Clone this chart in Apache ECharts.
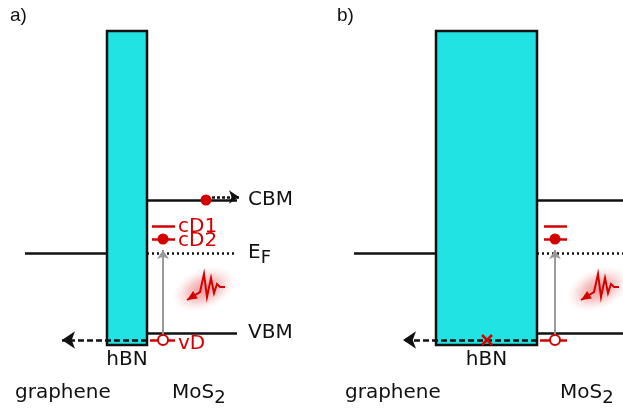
<!DOCTYPE html>
<html>
<head>
<meta charset="utf-8">
<script src="https://cdn.jsdelivr.net/npm/echarts@6/dist/echarts.min.js"></script>
<style>
  html, body { margin: 0; padding: 0; background: #fff; }
  #main { width: 623px; height: 410px; }
</style>
</head>
<body>
<div id="main"></div>
<script>
// sketch units = pixels of the 623x410 figure, y grows downward
const panelLabels = ['a)', 'b)'];
const panelLabelX = [10, 337];
const hbnLeft = [107, 436];
const hbnRight = [147, 537];
const hbnTop = 31;
const hbnBottom = 345;
const grapheneStart = [25, 354];
const mosEnd = [237, 623];
const levelNames = ['CBM', 'E{sub|F}', 'VBM'];
const levelY = [200, 253, 333];
const defectNames = ['cD1', 'cD2', 'vD'];
const defectY = [226, 239, 340];
const defectX = [163, 555];
const tunnelTip = [62, 403];
const blockedX = 487;
const photonCenter = [[205, 288], [599, 288]];
const photonWave = [[-18, 12], [-5, 4], [-1, -14], [2, 9], [6, -10], [9, 5], [12, -4], [15, -1], [20, -1]];
const bottomNames = ['graphene', 'MoS{sub|2}'];
const bottomX = [[15, 172], [345, 560]];

let chart = echarts.init(document.getElementById('main'));
let red = '#d40000';
let cyan = '#22e3e3';
let ink = '#111';

let solid = [], dotted = [], dashedArrows = [], grayArrows = [], redLines = [];
let filledDots = [], openDots = [], texts = [], rects = [];

for (let i = 0; i < 2; i++) {
  rects.push([hbnLeft[i], hbnTop, hbnRight[i], hbnBottom]);
  solid.push({coords: [[grapheneStart[i], levelY[1]], [hbnLeft[i], levelY[1]]]});
  solid.push({coords: [[hbnRight[i], levelY[0]], [mosEnd[i], levelY[0]]]});
  solid.push({coords: [[hbnRight[i], levelY[2]], [mosEnd[i], levelY[2]]]});
  dotted.push({coords: [[hbnRight[i], levelY[1]], [mosEnd[i], levelY[1]]]});
  dashedArrows.push({coords: [[hbnRight[i], defectY[2]], [tunnelTip[i], defectY[2]]]});
  grayArrows.push({coords: [[defectX[i], defectY[2] - 5], [defectX[i], levelY[1] - 3]]});
  let x = defectX[i];
  redLines.push({coords: [[x - 11, defectY[0]], [x + 12, defectY[0]]]});
  redLines.push({coords: [[x - 11, defectY[1]], [x + 12, defectY[1]]]});
  redLines.push({coords: [[hbnRight[i] + 3, defectY[2]], [x + 12, defectY[2]]]});
  filledDots.push([x, defectY[1]]);
  openDots.push([x, defectY[2]]);
  texts.push({value: [panelLabelX[i], 16], text: panelLabels[i], font: 'Liberation Sans', size: 19, color: ink});
  texts.push({value: [(hbnLeft[i] + hbnRight[i]) / 2, 360], text: 'hBN', align: 'center', color: ink});
  texts.push({value: [bottomX[i][0], 393], text: bottomNames[0], color: ink});
  texts.push({value: [bottomX[i][1], 393], text: bottomNames[1], color: ink});
}
// hot electron escaping over the CBM (panel a only)
filledDots.push([206, levelY[0]]);
let escape = [{coords: [[212, levelY[0] - 3], [239, levelY[0] - 3]]}];
// labels on panel a
texts.push({value: [248, levelY[0]], text: levelNames[0], color: ink});
texts.push({value: [248, levelY[1]], text: levelNames[1], color: ink});
texts.push({value: [248, levelY[2]], text: levelNames[2], color: ink});
texts.push({value: [178, defectY[0] + 1], text: defectNames[0], color: red});
texts.push({value: [178, defectY[1] + 2], text: defectNames[1], color: red});
texts.push({value: [178, defectY[2] + 4], text: defectNames[2], color: red});

function lineSeries(data, style, extra) {
  return Object.assign({
    type: 'lines', coordinateSystem: 'cartesian2d', silent: true,
    symbol: 'none', data: data, lineStyle: style, z: 3
  }, extra || {});
}

chart.setOption({
  animation: false,
  grid: {left: 0, right: 0, top: 0, bottom: 0},
  xAxis: {type: 'value', min: 0, max: 623, show: false},
  yAxis: {type: 'value', min: 0, max: 410, inverse: true, show: false},
  series: [
    {
      type: 'custom', z: 1, data: rects,
      renderItem: function (params, api) {
        let p1 = api.coord([api.value(0), api.value(1)]);
        let p2 = api.coord([api.value(2), api.value(3)]);
        return {
          type: 'rect',
          shape: {x: p1[0], y: p1[1], width: p2[0] - p1[0], height: p2[1] - p1[1]},
          style: {fill: cyan, stroke: ink, lineWidth: 2.5}
        };
      }
    },
    lineSeries(solid, {color: ink, width: 2.5, opacity: 1}),
    lineSeries(dotted, {color: ink, width: 2.5, type: [2, 3], opacity: 1}),
    lineSeries(dashedArrows, {color: ink, width: 2.5, type: [6, 3], opacity: 1},
      {symbol: ['none', 'arrow'], symbolSize: 13}),
    lineSeries(escape, {color: ink, width: 2.5, type: [3, 2], opacity: 1},
      {symbol: ['none', 'arrow'], symbolSize: 10}),
    lineSeries(grayArrows, {color: '#999', width: 2, opacity: 1},
      {symbol: ['none', 'arrow'], symbolSize: 9}),
    lineSeries(redLines, {color: red, width: 2.5, opacity: 1}, {z: 4}),
    {
      type: 'scatter', z: 5, symbol: 'circle', symbolSize: 11,
      data: filledDots, itemStyle: {color: red, opacity: 1}
    },
    {
      type: 'scatter', z: 5, symbol: 'circle', symbolSize: 10,
      data: openDots, itemStyle: {color: '#fff', borderColor: red, borderWidth: 2, opacity: 1}
    },
    {
      // tunnelling blocked in panel b
      type: 'custom', z: 6, data: [[blockedX, defectY[2]]],
      renderItem: function (params, api) {
        let p = api.coord([api.value(0), api.value(1)]);
        let s = 5;
        return {
          type: 'group', children: [
            {type: 'line', shape: {x1: p[0] - s, y1: p[1] - s, x2: p[0] + s, y2: p[1] + s}, style: {stroke: red, lineWidth: 2.5}},
            {type: 'line', shape: {x1: p[0] - s, y1: p[1] + s, x2: p[0] + s, y2: p[1] - s}, style: {stroke: red, lineWidth: 2.5}}
          ]
        };
      }
    },
    {
      // incoming photon with glow
      type: 'custom', z: 2, data: photonCenter,
      renderItem: function (params, api) {
        let c = api.coord([api.value(0), api.value(1)]);
        let pts = photonWave.map(function (d) { return [c[0] + d[0], c[1] + d[1]]; });
        let tip = pts[0], nx = pts[1][0] - tip[0], ny = pts[1][1] - tip[1];
        let len = Math.sqrt(nx * nx + ny * ny);
        nx /= len; ny /= len;
        let head = [tip,
          [tip[0] + nx * 10 - ny * 4.5, tip[1] + ny * 10 + nx * 4.5],
          [tip[0] + nx * 10 + ny * 4.5, tip[1] + ny * 10 - nx * 4.5]];
        return {
          type: 'group', children: [
            {
              type: 'circle', shape: {cx: 0, cy: 0, r: 20},
              x: c[0] - 1, y: c[1] + 1, scaleX: 1.65, scaleY: 1, rotation: 0.4,
              style: {
                fill: new echarts.graphic.RadialGradient(0.5, 0.5, 0.5, [
                  {offset: 0, color: 'rgba(215,20,20,0.45)'},
                  {offset: 0.5, color: 'rgba(225,60,60,0.28)'},
                  {offset: 0.8, color: 'rgba(235,110,110,0.1)'},
                  {offset: 1, color: 'rgba(240,140,140,0)'}
                ])
              }
            },
            {type: 'polyline', shape: {points: pts}, style: {stroke: red, lineWidth: 2, fill: null}},
            {type: 'polygon', shape: {points: head}, style: {fill: red}}
          ]
        };
      }
    },
    {
      type: 'custom', z: 7, data: texts.map(function (t) { return t.value; }),
      renderItem: function (params, api) {
        let t = texts[params.dataIndex];
        let p = api.coord([api.value(0), api.value(1)]);
        return {
          type: 'text', x: p[0], y: p[1],
          style: {
            text: t.text, fill: t.color,
            fontSize: t.size || 20, fontFamily: t.font || 'DejaVu Sans',
            align: t.align || 'left', verticalAlign: 'middle',
            rich: {
              sub: {fontSize: 18, fontFamily: 'DejaVu Sans', fill: t.color, padding: [11, 0, 0, 0]}
            }
          }
        };
      }
    }
  ]
});
</script>
</body>
</html>
